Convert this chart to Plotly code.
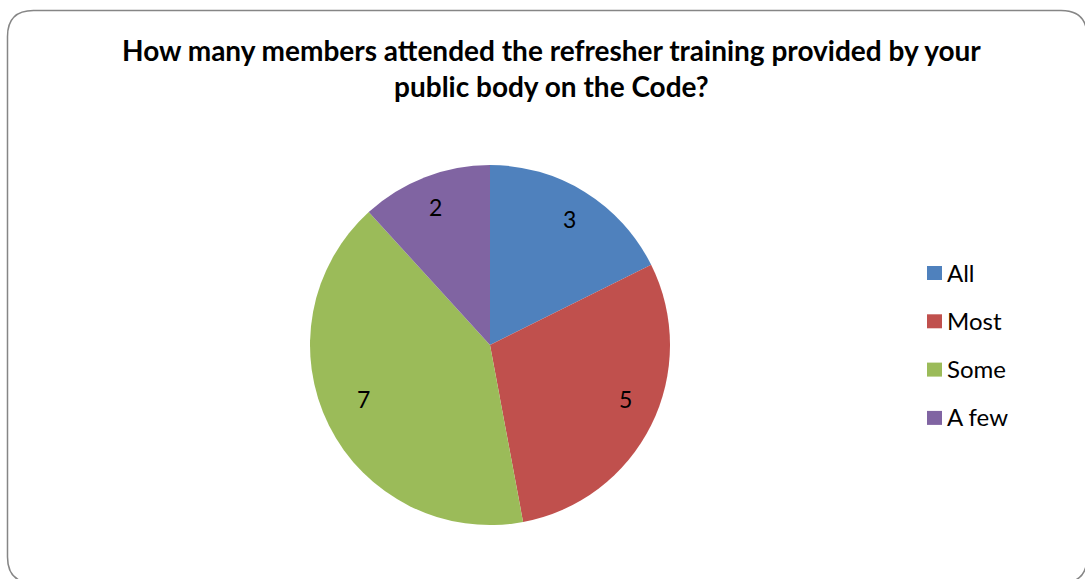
import math
import plotly.graph_objects as go

# Survey answers
categories = ["All", "Most", "Some", "A few"]
counts = [3, 5, 7, 2]
colors = ["#4F81BD", "#C0504D", "#9BBB59", "#8064A2"]
title_text = ("How many members attended the refresher training provided by your"
              "<br>public body on the Code?")

W, H = 1085, 579
FONT = "Lato, Open Sans, sans-serif"


def px(x):
    return x / W


def py(y):
    return 1 - y / H


# Pie geometry (pixels)
cx, cy, r = 490, 345, 180

fig = go.Figure(go.Pie(
    labels=categories,
    values=counts,
    marker=dict(colors=colors, line=dict(width=0)),
    sort=False,
    direction="clockwise",
    rotation=0,
    textinfo="none",
    hoverinfo="label+value",
    showlegend=False,
    domain=dict(x=[px(cx - r), px(cx + r)], y=[py(cy + r), py(cy - r)]),
))

annotations = []
# Value labels placed at each slice's mid angle
total = sum(counts)
start = 0.0
for v in counts:
    mid = (start + v / 2) / total * 2 * math.pi
    lx = cx + 0.84 * r * math.sin(mid)
    ly = cy - 0.84 * r * math.cos(mid) + 3
    annotations.append(dict(x=px(lx), y=py(ly), xref="paper", yref="paper",
                            text=str(v), showarrow=False,
                            font=dict(family=FONT, size=23, color="#000000")))
    start += v

# Legend drawn as swatches + labels
shapes = []
leg_x, leg_y0, leg_dy, sw = 927, 273, 48.3, 14
for i, (name, col) in enumerate(zip(categories, colors)):
    yc = leg_y0 + i * leg_dy
    shapes.append(dict(type="rect", xref="paper", yref="paper",
                       x0=px(leg_x), x1=px(leg_x + sw + 1),
                       y0=py(yc - sw / 2), y1=py(yc + sw / 2),
                       fillcolor=col, line=dict(width=0)))
    annotations.append(dict(x=px(leg_x + sw + 4), y=py(yc - 1), xref="paper", yref="paper",
                            xanchor="left", yanchor="middle", text=name, showarrow=False,
                            font=dict(family=FONT, size=24, color="#000000")))

# Title
annotations.append(dict(x=px(551), y=py(68), xref="paper", yref="paper",
                        xanchor="center", yanchor="middle", text=title_text,
                        showarrow=False, align="center",
                        font=dict(family=FONT, size=28, color="#000000", weight="bold")))

# Rounded chart frame
L, T, R, B, rad = 7.5, 10.5, 1087, 583, 26


def pt(x, y):
    return f"{px(x):.5f},{py(y):.5f}"


frame = (f"M {pt(L + rad, T)} L {pt(R - rad, T)} Q {pt(R, T)} {pt(R, T + rad)} "
         f"L {pt(R, B - rad)} Q {pt(R, B)} {pt(R - rad, B)} "
         f"L {pt(L + rad, B)} Q {pt(L, B)} {pt(L, B - rad)} "
         f"L {pt(L, T + rad)} Q {pt(L, T)} {pt(L + rad, T)} Z")
shapes.append(dict(type="path", xref="paper", yref="paper", path=frame,
                   line=dict(color="#868686", width=1.5)))

fig.update_layout(
    width=W, height=H,
    margin=dict(l=0, r=0, t=0, b=0),
    paper_bgcolor="#FFFFFF",
    plot_bgcolor="#FFFFFF",
    annotations=annotations,
    shapes=shapes,
)

fig.write_html("out.html")
